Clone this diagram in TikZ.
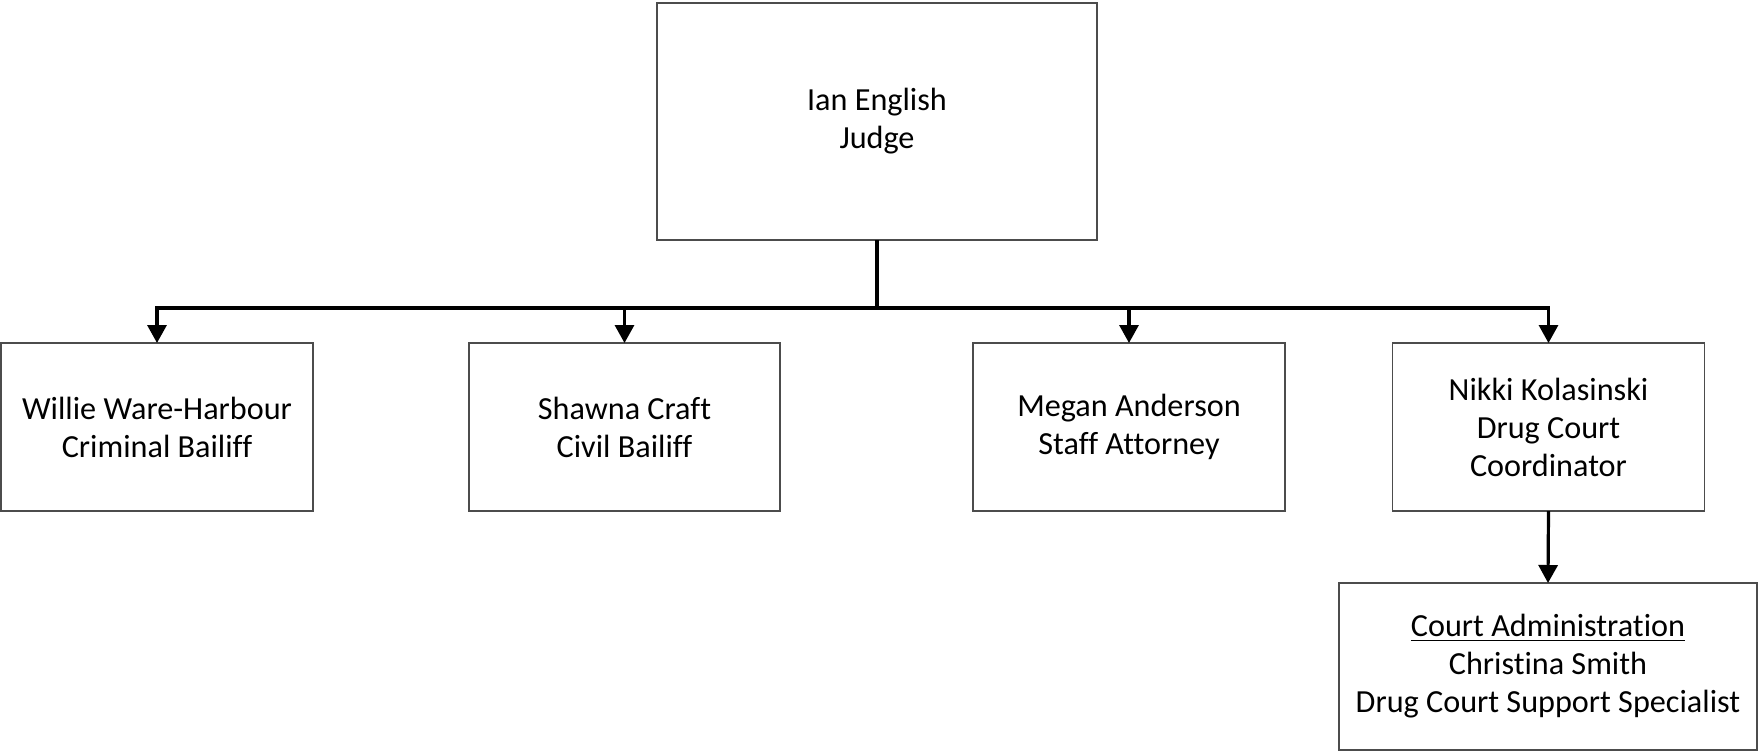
\documentclass[tikz,border=0pt]{standalone}
\usepackage{fontspec}
\setmainfont{Carlito}[Ligatures=NoCommon]
\usetikzlibrary{arrows.meta}
\begin{document}
\begin{tikzpicture}[x=0.5pt,y=-0.5pt,
  box/.style={draw=black!70,line width=0.6pt,rectangle,inner sep=0pt,outer sep=0pt,align=center,
    font=\fontsize{16.1pt}{19pt}\selectfont},
  conn/.style={line width=1.6pt,black},
  arr/.style={conn,-{Triangle[length=9pt,width=9.5pt]}}]
\useasboundingbox (0,0) rectangle (1758,752);
\node[box,minimum width=220pt,minimum height=118.5pt] (judge) at (877,121.5) {Ian English\\Judge};
\node[box,minimum width=156pt,minimum height=84pt] (c1) at (157,427) {Willie Ware-Harbour\\Criminal Bailiff};
\node[box,minimum width=155.5pt,minimum height=84pt] (c2) at (624.5,427) {Shawna Craft\\Civil Bailiff};
\node[box,minimum width=156pt,minimum height=84pt] (c3) at (1129,427) {Megan Anderson\\Staff Attorney};
\node[box,minimum width=156pt,minimum height=84pt] (c4) at (1548.5,427) {Nikki Kolasinski\\Drug Court\\Coordinator};
\node[box,minimum width=209pt,minimum height=83.5pt] (admin) at (1548,666.5) {\underline{Court Administration}\\Christina Smith\\Drug Court Support Specialist};
\coordinate (bar) at (877,308);
\draw[conn] (judge.south) -- (judge.south |- bar);
\draw[arr] (judge.south |- bar) -| (c1.north);
\draw[arr] (judge.south |- bar) -| (c2.north);
\draw[arr] (judge.south |- bar) -| (c3.north);
\draw[arr] (judge.south |- bar) -| (c4.north);
\draw[arr] (c4.south) -- (admin.north);
\end{tikzpicture}
\end{document}
